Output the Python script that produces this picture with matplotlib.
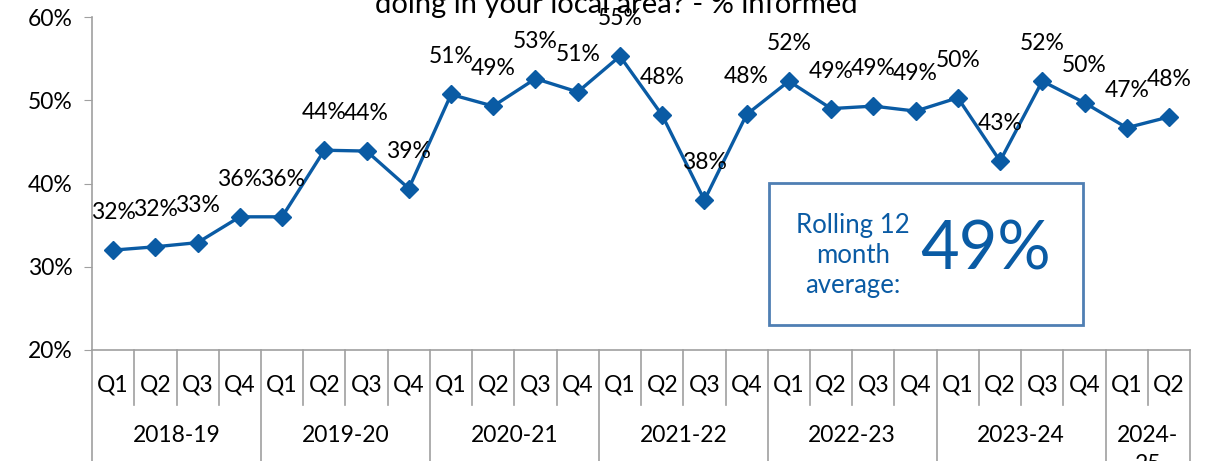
import matplotlib
matplotlib.use("Agg")
import matplotlib.pyplot as plt
import matplotlib.transforms as mtransforms
from matplotlib.patches import Rectangle

plt.rcParams['font.family'] = ['Lato', 'DejaVu Sans']

# data
years = ['2018-19', '2019-20', '2020-21', '2021-22', '2022-23', '2023-24', '2024-\n25']
quarters = ['Q1', 'Q2', 'Q3', 'Q4'] * 6 + ['Q1', 'Q2']
year_sizes = [4, 4, 4, 4, 4, 4, 2]
informed = [32.0, 32.4, 32.9, 36.0,
            36.0, 44.0, 43.9, 39.4,
            50.7, 49.3, 52.6, 51.0,
            55.3, 48.2, 38.0, 48.3,
            52.3, 49.0, 49.3, 48.7,
            50.3, 42.7, 52.3, 49.7,
            46.7, 48.0]
rolling_avg = 49

blue = '#0a5ba4'
grey = '#a0a0a0'
fs = 16.5

fig = plt.figure(figsize=(12.16, 4.61), dpi=100)
ax = fig.add_axes([0.0757, 0.2408, 0.903, 0.7222])

x = list(range(len(informed)))
ax.plot(x, informed, color=blue, lw=2.4, marker='D', markersize=9.5, zorder=3)
for xi, v in zip(x, informed):
    ax.annotate(f'{round(v):.0f}%', (xi, v), xytext=(0, 27), textcoords='offset points',
                ha='center', va='center', fontsize=fs, color='black')

ax.set_xlim(-0.5, len(informed) - 0.5)
ax.set_ylim(20, 60)
ax.set_yticks([20, 30, 40, 50, 60])
ax.set_yticklabels([f'{t}%' for t in [20, 30, 40, 50, 60]], fontsize=fs)
ax.tick_params(axis='y', length=6, color=grey, pad=8)
ax.set_xticks([])
for s in ['top', 'right']:
    ax.spines[s].set_visible(False)
ax.spines['left'].set_color(grey)
ax.spines['bottom'].set_color(grey)
ax.spines['left'].set_linewidth(1.2)
ax.spines['bottom'].set_linewidth(1.2)

# multi level category axis
trans = mtransforms.blended_transform_factory(ax.transData, ax.transAxes)
for i, q in enumerate(quarters):
    ax.text(i, -0.105, q, transform=trans, ha='center', va='center', fontsize=fs)
edges = [-0.5]
for n in year_sizes:
    edges.append(edges[-1] + n)
for i in range(len(informed) + 1):
    xe = i - 0.5
    if xe in edges:
        y0 = -0.35
    else:
        y0 = -0.165
    ax.plot([xe, xe], [0, y0], transform=trans, color=grey, lw=1.2, clip_on=False)
for k, yr in enumerate(years):
    mid = (edges[k] + edges[k + 1]) / 2
    ax.text(mid, -0.225, yr, transform=trans, ha='center', va='top', fontsize=fs,
            linespacing=1.5)

# title (cut off at the top in the reference)
fig.text(0.507, 1 - 13 / 461, 'doing in your local area? - % informed', ha='center',
         va='baseline', fontsize=21)

# rolling average box
box = Rectangle((769 / 1216, 1 - 325 / 461), (1083 - 769) / 1216, (325 - 183) / 461,
                transform=fig.transFigure, fill=False, edgecolor='#4f7fb3', lw=2)
fig.patches.append(box)
fig.text(853 / 1216, 1 - 255 / 461, 'Rolling 12\nmonth\naverage:', ha='center', va='center',
         fontsize=18.5, color=blue, linespacing=1.25)
fig.text(985 / 1216, 1 - 250 / 461, f'{rolling_avg}%', ha='center', va='center',
         fontsize=48, color=blue)

fig.savefig('out.png', dpi=100)
